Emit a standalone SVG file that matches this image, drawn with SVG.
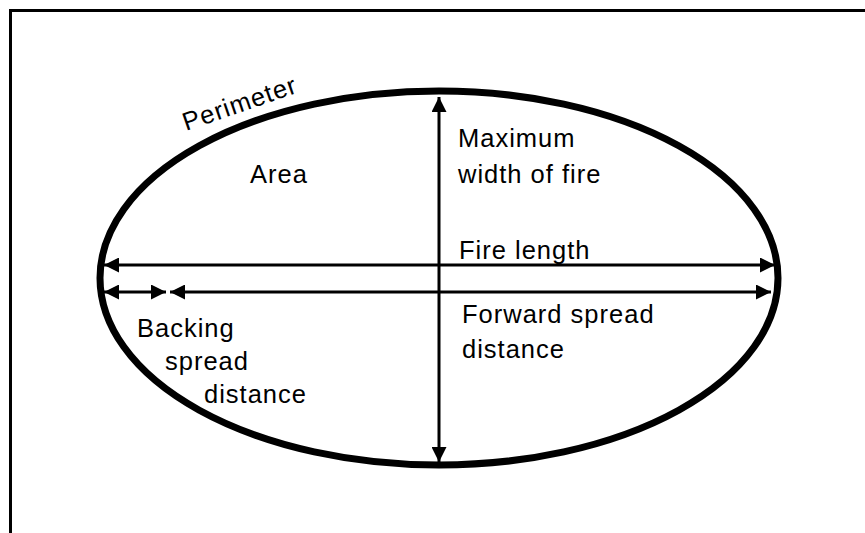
<svg xmlns="http://www.w3.org/2000/svg" width="865" height="533" viewBox="0 0 865 533">
<style>
text{font-family:"Liberation Sans",Arial,sans-serif;font-size:25.5px;letter-spacing:1px;fill:#000}
.ln{stroke:#000;stroke-width:3;fill:none}
</style>
<defs>
<marker id="ah" viewBox="0 0 10 10" refX="10" refY="5" markerWidth="5" markerHeight="5" orient="auto-start-reverse" markerUnits="strokeWidth">
<path d="M0,0 L10,5 L0,10 Z" fill="#000"/>
</marker>
</defs>
<rect width="865" height="533" fill="#fff"/>
<path d="M10.5,533 V10.5 H865" stroke="#000" stroke-width="3" fill="none"/>
<g id="fire">
<ellipse cx="439" cy="278" rx="339" ry="187" fill="none" stroke="#000" stroke-width="7"/>
<text transform="translate(186,131) rotate(-19)" font-size="23">Perimeter</text>
<text x="250" y="183">Area</text>
</g>
<g id="connectors">
<line class="ln" x1="439" y1="97" x2="439" y2="462" marker-start="url(#ah)" marker-end="url(#ah)"/>
<line class="ln" x1="104" y1="265" x2="775" y2="265" marker-start="url(#ah)" marker-end="url(#ah)"/>
<line class="ln" x1="170" y1="292" x2="771" y2="292" marker-start="url(#ah)" marker-end="url(#ah)"/>
<line class="ln" x1="104" y1="292" x2="166" y2="292" marker-start="url(#ah)" marker-end="url(#ah)"/>
</g>
<g id="labels">
<text x="458" y="147">Maximum</text>
<text x="458" y="183">width of fire</text>
<text x="459" y="259">Fire length</text>
<text x="462" y="323">Forward spread</text>
<text x="462" y="358">distance</text>
<text x="137" y="337">Backing</text>
<text x="165" y="370">spread</text>
<text x="204" y="403">distance</text>
</g>
</svg>
